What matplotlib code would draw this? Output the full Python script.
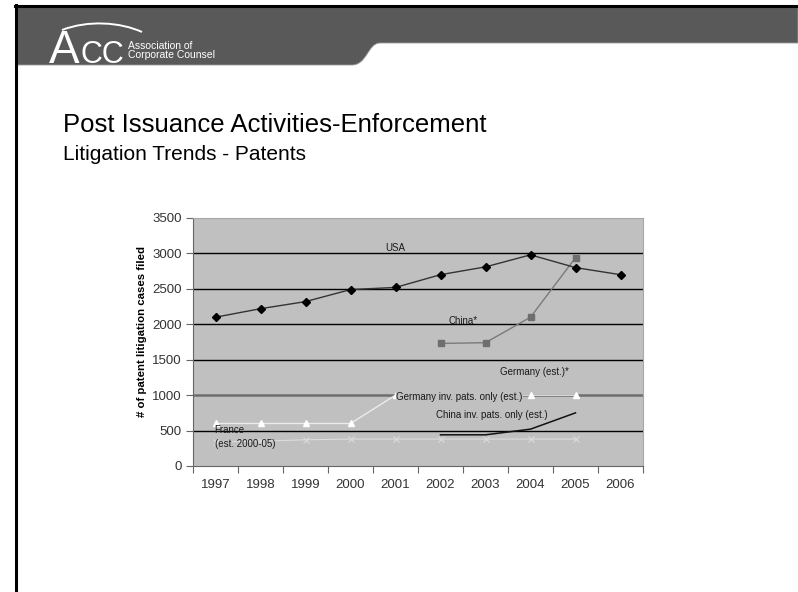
"""Slide: patent litigation trends (ACC deck), redrawn with matplotlib."""

import matplotlib

matplotlib.use("Agg")
import matplotlib.pyplot as plt
from matplotlib.patches import PathPatch
from matplotlib.path import Path
from matplotlib.lines import Line2D

plt.rcParams["font.family"] = ["Liberation Sans", "DejaVu Sans"]

W, H = 798, 592

years = ["1997", "1998", "1999", "2000", "2001", "2002", "2003", "2004", "2005", "2006"]
usa = [2100, 2220, 2320, 2490, 2520, 2700, 2810, 2980, 2800, 2700]
china = [None, None, None, None, None, 1730, 1740, 2100, 2940, None]
germany_inv = [600, 600, 600, 600, 1000, 1000, 1000, 1000, 1000, None]
china_inv = [None, None, None, None, None, 440, 440, 520, 750, None]
france = [340, 350, 370, 380, 380, 380, 380, 380, 380, None]
yticks = [0, 500, 1000, 1500, 2000, 2500, 3000, 3500]

# series label: (text, x category, y value, horizontal alignment)
labels = [
    ("USA", 4.0, 3080, "center"),
    ("China*", 5.5, 2050, "center"),
    ("Germany (est.)*", 7.08, 1320, "center"),
    ("Germany inv. pats. only (est.)", 4.02, 975, "left"),
    ("China inv. pats. only (est.)", 4.9, 720, "left"),
    ("France\n(est. 2000-05)", -0.02, 405, "left"),
]


def fx(x):
    return x / W


def fy(y):
    return 1 - y / H


def _series(vals):
    xs = [i for i, v in enumerate(vals) if v is not None]
    return xs, [vals[i] for i in xs]


fig = plt.figure(figsize=(W / 100, H / 100), dpi=100)
fig.patch.set_facecolor("white")

# --- slide frame + header band -------------------------------------------------
fig.add_artist(Line2D([fx(15), fx(798)], [fy(6), fy(6)], color="black", lw=2.2,
                      transform=fig.transFigure))
fig.add_artist(Line2D([fx(16), fx(16)], [fy(5), fy(592)], color="black", lw=2.2,
                      transform=fig.transFigure))
verts = [(17, 7.5), (798, 7.5), (798, 43), (380, 43),
         (368, 43), (367, 65), (352, 65), (17, 65), (17, 7.5)]
codes = [Path.MOVETO, Path.LINETO, Path.LINETO, Path.LINETO,
         Path.CURVE4, Path.CURVE4, Path.CURVE4, Path.LINETO, Path.CLOSEPOLY]
band = Path([(fx(x), fy(y)) for x, y in verts], codes)
fig.add_artist(PathPatch(band, facecolor="#595959", edgecolor="#9a9a9a", lw=0.6,
                         transform=fig.transFigure))

# logo: ACC with a swoosh, plus the association name
fig.text(fx(49), fy(63), "A", color="white", fontsize=33, va="baseline", ha="left")
fig.text(fx(80), fy(63), "CC", color="white", fontsize=22, va="baseline", ha="left")
swoosh = Path([(fx(x), fy(y)) for x, y in [(62, 30), (88, 20), (120, 22), (142, 32)]],
              [Path.MOVETO, Path.CURVE4, Path.CURVE4, Path.CURVE4])
fig.add_artist(PathPatch(swoosh, facecolor="none", edgecolor="white", lw=1.4,
                         transform=fig.transFigure))
fig.text(fx(128), fy(49), "Association of", color="white", fontsize=7.5, va="baseline")
fig.text(fx(128), fy(58), "Corporate Counsel", color="white", fontsize=7.5, va="baseline")

fig.text(fx(63), fy(125), "Post Issuance Activities-Enforcement", fontsize=18.5,
         va="center", ha="left")
fig.text(fx(63), fy(154), "Litigation Trends - Patents", fontsize=15,
         va="center", ha="left")

# --- chart ---------------------------------------------------------------------
ax = fig.add_axes([fx(193), fy(466), (643 - 193) / W, (466 - 218) / H])
ax.set_facecolor("#c0c0c0")
ax.set_xlim(-0.5, len(years) - 0.5)
ax.set_ylim(0, 3500)

for v in yticks[1:-1]:
    if v == 1000:
        ax.axhline(v, color="#6e6e6e", lw=1.8, zorder=1)
    else:
        ax.axhline(v, color="black", lw=1.0, zorder=1)

x, y = _series(france)
ax.plot(x, y, color="#dcdcdc", lw=0.8, marker="x", ms=4, mew=0.8, zorder=2)
x, y = _series(germany_inv)
ax.plot(x, y, color="#ececec", lw=1.0, marker="^", ms=4.5, mfc="white", mec="white", zorder=3)
x, y = _series(china_inv)
ax.plot(x, y, color="#111111", lw=1.1, zorder=3)
x, y = _series(china)
ax.plot(x, y, color="#7a7a7a", lw=1.0, marker="s", ms=4.5, mfc="#6e6e6e", mec="#6e6e6e", zorder=3)
x, y = _series(usa)
ax.plot(x, y, color="#333333", lw=1.0, marker="D", ms=3.8, mfc="black", mec="black", zorder=4)

for text, lx, ly, ha in labels:
    ax.text(lx, ly, text, fontsize=7, color="#1a1a1a", ha=ha, va="center",
            zorder=5, linespacing=1.5,
            bbox=dict(facecolor="#c0c0c0", edgecolor="none", pad=0.2)
            if "inv." in text else None)

ax.set_yticks(yticks)
ax.set_xticks([i - 0.5 for i in range(len(years) + 1)])
ax.set_xticklabels([])
ax.set_xticks(range(len(years)), minor=True)
ax.set_xticklabels(years, minor=True)
ax.tick_params(axis="x", which="minor", length=0, pad=9, labelsize=9.5, labelcolor="#333333")
ax.tick_params(axis="x", which="major", length=5, color="#666666", direction="out")
ax.tick_params(axis="y", length=5, color="#666666", direction="out", pad=3,
               labelsize=9.5, labelcolor="#333333")

for side in ("top", "right"):
    ax.spines[side].set_color("#a8a8a8")
for side in ("left", "bottom"):
    ax.spines[side].set_color("#666666")

ax.set_ylabel("# of patent litigation cases filed", fontsize=8.2, fontweight="bold")
ax.yaxis.set_label_coords(-0.102, 0.544)

fig.savefig("out.png", dpi=100)
